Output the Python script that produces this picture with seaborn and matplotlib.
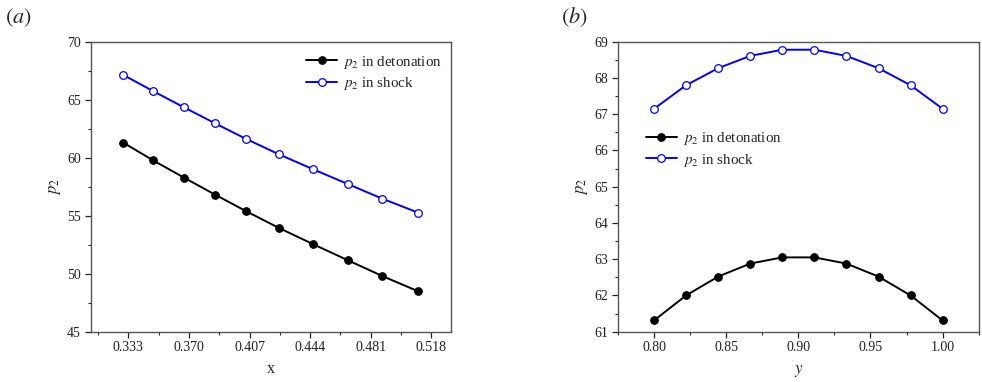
import numpy as np
import pandas as pd
import matplotlib
matplotlib.use("Agg")
import matplotlib.pyplot as plt
import seaborn as sns
from matplotlib.ticker import MultipleLocator, FixedLocator

# ---- data ----
x_a = [0.330, 0.348, 0.367, 0.386, 0.405, 0.425, 0.446, 0.467, 0.488, 0.510]
det_a = [61.29, 59.78, 58.28, 56.81, 55.38, 53.94, 52.53, 51.16, 49.80, 48.48]
shock_a = [67.13, 65.75, 64.34, 62.96, 61.61, 60.29, 58.99, 57.73, 56.47, 55.26]
xticks_a = [0.333, 0.370, 0.407, 0.444, 0.481, 0.518]
xticklabels_a = ["0.333", "0.370", "0.407", "0.444", "0.481", "0.518"]

y_b = [0.8, 0.8222, 0.8444, 0.8667, 0.8889, 0.9111, 0.9333, 0.9556, 0.9778, 1.0]
det_b = [61.31, 62.00, 62.52, 62.88, 63.05, 63.05, 62.88, 62.52, 62.00, 61.31]
shock_b = [67.15, 67.80, 68.27, 68.61, 68.78, 68.78, 68.61, 68.27, 67.80, 67.15]

lab_det = r"$p_2$ in detonation"
lab_shock = r"$p_2$ in shock"

sns.set_theme(style="white")
plt.rcParams["font.family"] = ["Liberation Serif", "DejaVu Serif"]
plt.rcParams["mathtext.fontset"] = "stix"

fig = plt.figure(figsize=(9.82, 3.82), dpi=100)
ax1 = fig.add_axes([0.0924, 0.1317, 0.3669, 0.759])
ax2 = fig.add_axes([0.6293, 0.1317, 0.3673, 0.759])

def draw(ax, xs, det, shock):
    sns.lineplot(x=xs, y=det, ax=ax, color="black", marker="o", markersize=5.5,
                 markerfacecolor="black", markeredgecolor="black", linewidth=1.4,
                 label=lab_det)
    sns.lineplot(x=xs, y=shock, ax=ax, color="#0000ff", marker="o", markersize=5.5,
                 markerfacecolor="white", markeredgecolor="#0000ff", markeredgewidth=0.9,
                 linewidth=1.4, label=lab_shock)

draw(ax1, x_a, det_a, shock_a)
draw(ax2, y_b, det_b, shock_b)

leg_kw = dict(frameon=False, fontsize=10.8, handlelength=2.05, handletextpad=0.4,
              labelspacing=0.3, borderaxespad=0.0)

# Panel (a)
ax1.set_xlim(0.310, 0.530)
ax1.set_ylim(45, 70)
ax1.xaxis.set_major_locator(FixedLocator(xticks_a))
ax1.set_xticklabels(xticklabels_a)
ax1.xaxis.set_minor_locator(FixedLocator([0.3145, 0.3515, 0.3885, 0.4255, 0.4625, 0.4995]))
ax1.yaxis.set_major_locator(MultipleLocator(5))
ax1.yaxis.set_minor_locator(MultipleLocator(2.5))
ax1.set_xlabel("x", fontsize=11.5, labelpad=5)
ax1.set_ylabel(r"$p_2$", fontsize=12, labelpad=3)
ax1.legend(loc="upper left", bbox_to_anchor=(0.582, 0.98), **leg_kw)

# Panel (b)
ax2.set_xlim(0.775, 1.025)
ax2.set_ylim(61, 69)
ax2.xaxis.set_major_locator(MultipleLocator(0.05))
ax2.xaxis.set_major_formatter(matplotlib.ticker.FormatStrFormatter("%.2f"))
ax2.xaxis.set_minor_locator(MultipleLocator(0.025))
ax2.yaxis.set_major_locator(MultipleLocator(1))
ax2.yaxis.set_minor_locator(MultipleLocator(0.5))
ax2.set_xlabel(r"$y$", fontsize=12, labelpad=6)
ax2.set_ylabel(r"$p_2$", fontsize=12, labelpad=3)
ax2.legend(loc="upper left", bbox_to_anchor=(0.061, 0.716), **leg_kw)

for ax in (ax1, ax2):
    for s in ax.spines.values():
        s.set_color("#555555")
        s.set_linewidth(1.0)
    ax.tick_params(which="both", direction="out", top=False, right=False,
                   bottom=True, left=True, colors="#222222", labelsize=10)
    ax.tick_params(which="major", length=4, width=0.9, pad=3)
    ax.tick_params(which="minor", length=2.2, width=0.8)

fig.text(0.005, 0.955, r"$(a)$", fontsize=16, va="center", ha="left")
fig.text(0.571, 0.955, r"$(b)$", fontsize=16, va="center", ha="left")

fig.savefig("out.png", dpi=100)
